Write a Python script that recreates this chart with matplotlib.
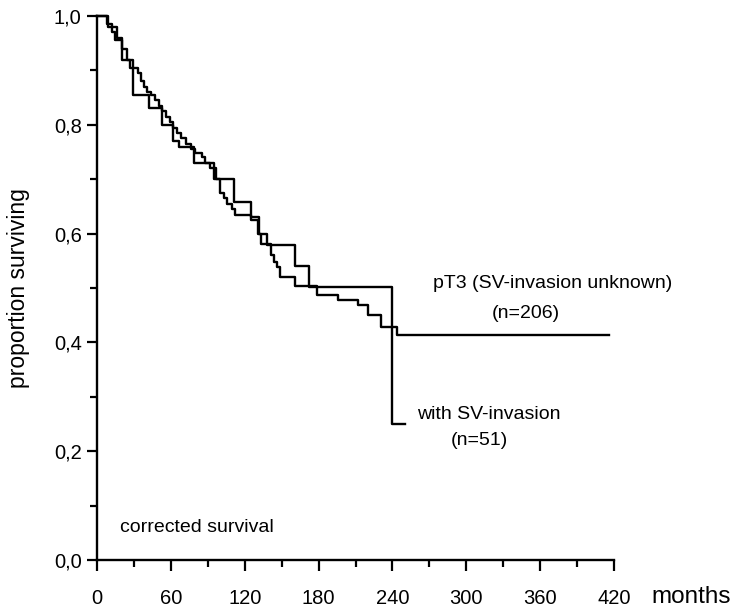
import matplotlib
matplotlib.use('Agg')
import matplotlib.pyplot as plt
import numpy as np

plt.rcParams['font.family'] = ['Liberation Sans Narrow', 'Liberation Sans', 'DejaVu Sans']

# with SV-invasion (n=51): event times (months) and survival after each step
sv_t = [0, 9, 16, 20, 29, 42, 53, 62, 67, 79, 95, 111, 125, 132, 138, 161, 172, 240, 250]
sv_s = [1.0, 0.98, 0.96, 0.92, 0.855, 0.83, 0.80, 0.77, 0.76, 0.73, 0.70, 0.658, 0.63, 0.60,
        0.579, 0.54, 0.502, 0.25, 0.25]

# pT3, SV-invasion unknown (n=206)
pt3_t = [0, 8, 12, 15, 20, 24, 27, 33, 36, 38, 41, 44, 47, 50, 53, 56, 59, 62, 65, 68,
         72, 76, 80, 85, 88, 92, 97, 100, 103, 106, 110, 112, 125, 131, 133, 141, 144,
         146, 149, 161, 179, 196, 212, 220, 231, 244, 416]
pt3_s = [1.0, 0.985, 0.97, 0.955, 0.94, 0.92, 0.905, 0.895, 0.88, 0.87, 0.86, 0.855,
         0.845, 0.835, 0.825, 0.815, 0.805, 0.795, 0.785, 0.775, 0.765, 0.755, 0.748,
         0.74, 0.73, 0.72, 0.70, 0.675, 0.665, 0.655, 0.645, 0.634, 0.625, 0.60, 0.58,
         0.56, 0.548, 0.539, 0.52, 0.504, 0.487, 0.478, 0.469, 0.45, 0.428, 0.414, 0.414]

xticks = [0, 60, 120, 180, 240, 300, 360, 420]
yticks = [0.0, 0.2, 0.4, 0.6, 0.8, 1.0]
ylabels = ['0,0', '0,2', '0,4', '0,6', '0,8', '1,0']

fig = plt.figure(figsize=(7.32, 6.11), dpi=100)
ax = fig.add_axes([97/732, 1 - 560/611, 517/732, 544/611])

ax.step(sv_t, sv_s, where='post', color='black', lw=1.7, clip_on=False)
ax.step(pt3_t, pt3_s, where='post', color='black', lw=1.7, clip_on=False)

ax.set_xlim(0, 420)
ax.set_ylim(0, 1.0)
ax.spines['top'].set_visible(False)
ax.spines['right'].set_visible(False)
ax.spines['left'].set_linewidth(1.7)
ax.spines['bottom'].set_linewidth(1.7)

ax.set_xticks(xticks)
ax.set_xticks(np.arange(30, 420, 60), minor=True)
ax.set_yticks(yticks)
ax.set_yticklabels(ylabels)
ax.set_yticks(np.arange(0.1, 1.0, 0.2), minor=True)
ax.tick_params(axis='both', which='major', labelsize=14.5, width=1.6, direction='out')
ax.tick_params(axis='x', which='major', length=8, pad=13)
ax.tick_params(axis='x', which='minor', length=5, width=1.6)
ax.tick_params(axis='y', which='major', length=7, pad=4)
ax.tick_params(axis='y', which='minor', length=5, width=1.6)

ax.set_ylabel('proportion surviving', fontsize=16.5, labelpad=17)
ax.text(1.073, -0.068, 'months', transform=ax.transAxes, fontsize=17.5, va='center', ha='left')

ax.text(370, 0.509, 'pT3 (SV-invasion unknown)', fontsize=14, ha='center', va='center')
ax.text(348, 0.454, '(n=206)', fontsize=14, ha='center', va='center')
ax.text(260, 0.267, 'with SV-invasion', fontsize=14, ha='left', va='center')
ax.text(311, 0.22, '(n=51)', fontsize=14, ha='center', va='center')
ax.text(19, 0.06, 'corrected survival', fontsize=14, ha='left', va='center')

fig.savefig('out.png', dpi=100)
